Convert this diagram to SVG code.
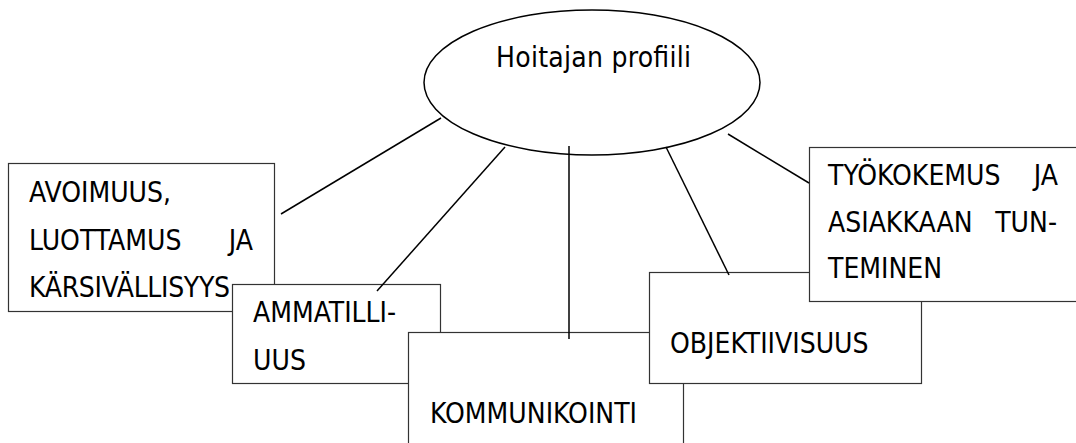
<svg xmlns="http://www.w3.org/2000/svg" width="1076" height="443" viewBox="0 0 1076 443">
<style>
.box{fill:#fff;stroke:#333;stroke-width:1.2}
.lbl{font-family:"DejaVu Sans Condensed","DejaVu Sans",sans-serif;font-size:28px;fill:#000}
.end{text-anchor:end}
.conn line{stroke:#000;stroke-width:1.5}
</style>
<rect width="1076" height="443" fill="#fff"/>
<g id="node-hoitajan">
<ellipse cx="592" cy="82.5" rx="168" ry="72.5" fill="#fff" stroke="#000" stroke-width="1.5"/>
<text class="lbl" x="496" y="67" textLength="195">Hoitajan profiili</text>
</g>
<g id="node-avoimuus">
<rect class="box" x="8.5" y="163.5" width="266" height="148"/>
<text class="lbl" x="29" y="202">AVOIMUUS,</text>
<text class="lbl" x="29" y="250">LUOTTAMUS</text>
<text class="lbl end" x="253" y="250">JA</text>
<text class="lbl" x="29" y="297" textLength="201">KÄRSIVÄLLISYYS</text>
</g>
<g id="node-ammatilliuus">
<rect class="box" x="232.5" y="284.5" width="208" height="99"/>
<text class="lbl" x="253" y="322">AMMATILLI-</text>
<text class="lbl" x="253" y="370">UUS</text>
</g>
<g id="node-kommunikointi">
<rect class="box" x="408.5" y="332.5" width="275" height="130"/>
<text class="lbl" x="430" y="423" textLength="207">KOMMUNIKOINTI</text>
</g>
<g id="node-objektiivisuus">
<rect class="box" x="649.5" y="272.5" width="272" height="111"/>
<text class="lbl" x="670" y="353">OBJEKTIIVISUUS</text>
</g>
<g id="node-tyokokemus">
<rect class="box" x="809.5" y="147.5" width="290" height="154"/>
<text class="lbl" x="828" y="185">TYÖKOKEMUS</text>
<text class="lbl end" x="1058" y="185">JA</text>
<text class="lbl" x="828" y="232">ASIAKKAAN</text>
<text class="lbl end" x="1057" y="232">TUN-</text>
<text class="lbl" x="828" y="278">TEMINEN</text>
</g>
<g id="connectors" class="conn">
<line x1="281" y1="214" x2="441" y2="118"/>
<line x1="505" y1="147" x2="377" y2="291"/>
<line x1="569" y1="146" x2="569" y2="339"/>
<line x1="666" y1="147" x2="729" y2="275"/>
<line x1="728" y1="134" x2="809" y2="183"/>
</g>
</svg>
